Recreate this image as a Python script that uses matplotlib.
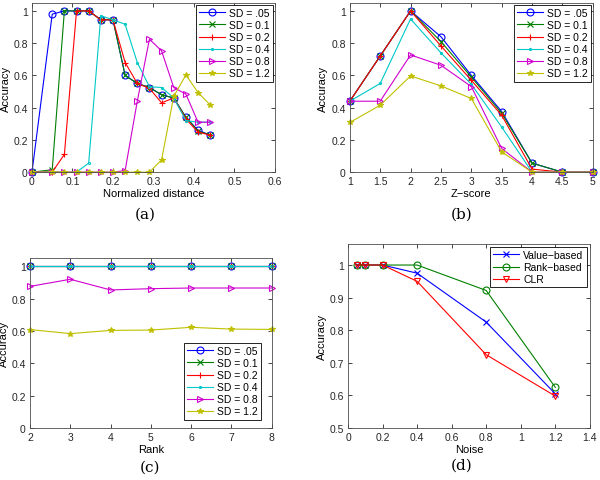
import numpy as np
import matplotlib
matplotlib.use("Agg")
import matplotlib.pyplot as plt
from matplotlib.ticker import FuncFormatter

plt.rcParams['font.family'] = ['Liberation Sans', 'DejaVu Sans']

# series labels / styles (matlab default line specs)
sd_labels = ['SD = .05', 'SD = 0.1', 'SD = 0.2', 'SD = 0.4', 'SD = 0.8', 'SD = 1.2']
sd_colors = ['#0000ff', '#008000', '#ff0000', '#00c8c8', '#d000d0', '#c0c000']
sd_markers = ['o', 'x', '+', '.', '>', '*']

# (a) accuracy vs normalized distance
dist = [0, 0.05, 0.08, 0.11, 0.14, 0.17, 0.20, 0.23, 0.26, 0.29, 0.32, 0.35, 0.38, 0.41, 0.44]
acc_a = [
    [0, 0.98, 1, 1, 1, 0.945, 0.945, 0.60, 0.55, 0.525, 0.48, 0.46, 0.34, 0.26, 0.23],
    [0, 0.015, 1, 1, 1, 0.945, 0.945, 0.60, 0.55, 0.525, 0.48, 0.46, 0.34, 0.255, 0.23],
    [0, 0, 0.11, 1, 1, 0.945, 0.945, 0.68, 0.55, 0.52, 0.43, 0.46, 0.33, 0.248, 0.23],
    [0, 0, 0, 0, 0.056, 0.97, 0.945, 0.917, 0.68, 0.53, 0.525, 0.46, 0.32, 0.31, 0.31],
    [0, 0, 0, 0, 0, 0, 0, 0.01, 0.44, 0.825, 0.752, 0.525, 0.484, 0.31, 0.31],
    [0, 0, 0, 0, 0, 0, 0, 0, 0, 0, 0.076, 0.47, 0.603, 0.494, 0.417],
]

# (b) accuracy vs z-score
zscore = [1, 1.5, 2, 2.5, 3, 3.5, 4, 4.5, 5]
acc_b = [
    [0.44, 0.72, 1.0, 0.84, 0.60, 0.376, 0.056, 0, 0],
    [0.44, 0.72, 1.0, 0.81, 0.59, 0.365, 0.056, 0, 0],
    [0.44, 0.72, 1.0, 0.783, 0.57, 0.353, 0.019, 0, 0],
    [0.44, 0.55, 0.95, 0.74, 0.545, 0.28, 0, 0, 0],
    [0.44, 0.44, 0.727, 0.663, 0.531, 0.147, 0, 0, 0],
    [0.308, 0.415, 0.597, 0.535, 0.457, 0.126, 0, 0, 0],
]

# (c) accuracy vs rank
rank = [2, 3, 4, 5, 6, 7, 8]
acc_c = [
    [1, 1, 1, 1, 1, 1, 1],
    [1, 1, 1, 1, 1, 1, 1],
    [1, 1, 1, 1, 1, 1, 1],
    [1, 1, 1, 1, 1, 1, 1],
    [0.876, 0.92, 0.854, 0.862, 0.866, 0.866, 0.866],
    [0.609, 0.584, 0.604, 0.606, 0.623, 0.612, 0.61],
]

# (d) accuracy vs noise
noise = [0.05, 0.1, 0.2, 0.4, 0.8, 1.2]
value_based = [1, 1, 1, 0.975, 0.825, 0.605]
rank_based = [1, 1, 1, 1, 0.922, 0.625]
clr = [1, 1, 1, 0.95, 0.725, 0.598]

fig = plt.figure(figsize=(6, 4.81), dpi=100)

fmt = FuncFormatter(lambda v, p: ('%g' % round(v, 6)))


def style(ax):
    ax.tick_params(direction='in', top=True, right=True, length=3, width=0.6,
                   labelsize=7.5, pad=3, colors='0.15')
    for s in ax.spines.values():
        s.set_linewidth(0.6)
        s.set_color('0.3')
    ax.xaxis.set_major_formatter(fmt)
    ax.yaxis.set_major_formatter(fmt)


def sd_lines(ax, x, ys):
    for y, lab, c, m in zip(ys, sd_labels, sd_colors, sd_markers):
        mfc = c if m == '*' else 'none'
        ms = 5 if m in ('o', '>') else (4 if m in ('x', '+', '*') else 3)
        ax.plot(x, y, color=c, marker=m, lw=0.8, ms=ms, mfc=mfc, mew=0.8,
                label=lab, clip_on=False)


legkw = dict(fontsize=7.5, fancybox=False, edgecolor='black', framealpha=1,
             handlelength=2.5, borderpad=0.3, labelspacing=0.2, handletextpad=0.4)

# (a)
ax = fig.add_axes([0.0533, 0.640, 0.405, 0.352])
sd_lines(ax, dist, acc_a)
ax.set_xlim(0, 0.6)
ax.set_ylim(0, 1.05)
ax.set_xticks(np.arange(0, 0.61, 0.1))
ax.set_yticks(np.arange(0, 1.01, 0.2))
ax.set_xlabel('Normalized distance', fontsize=8, labelpad=1)
ax.set_ylabel('Accuracy', fontsize=8, labelpad=2)
style(ax)
ax.legend(loc='upper right', borderaxespad=0.2, **legkw).get_frame().set_linewidth(0.6)

# (b)
ax = fig.add_axes([0.583, 0.640, 0.405, 0.352])
sd_lines(ax, zscore, acc_b)
ax.set_xlim(1, 5)
ax.set_ylim(0, 1.05)
ax.set_xticks(np.arange(1, 5.01, 0.5))
ax.set_yticks(np.arange(0, 1.01, 0.2))
ax.set_xlabel('Z\u2212score', fontsize=8, labelpad=1)
ax.set_ylabel('Accuracy', fontsize=8, labelpad=2)
style(ax)
ax.legend(loc='upper right', borderaxespad=0.2, **legkw).get_frame().set_linewidth(0.6)

# (c)
ax = fig.add_axes([0.05, 0.108, 0.403, 0.353])
sd_lines(ax, rank, acc_c)
ax.set_xlim(2, 8)
ax.set_ylim(0, 1.05)
ax.set_xticks(rank)
ax.set_yticks(np.arange(0, 1.01, 0.2))
ax.set_xlabel('Rank', fontsize=8, labelpad=1)
ax.set_ylabel('Accuracy', fontsize=8, labelpad=2)
style(ax)
ax.legend(loc='lower right', bbox_to_anchor=(0.955, 0.05), borderaxespad=0,
          **legkw).get_frame().set_linewidth(0.6)

# (d)
ax = fig.add_axes([0.58, 0.108, 0.403, 0.383])
ax.plot(noise, value_based, color='#0000ff', marker='x', lw=0.8, ms=4, mew=0.8, label='Value\u2212based')
ax.plot(noise, rank_based, color='#008000', marker='o', lw=0.8, ms=5, mfc='none', mew=0.8, label='Rank\u2212based')
ax.plot(noise, clr, color='#ff0000', marker='v', lw=0.8, ms=5, mfc='none', mew=0.8, label='CLR')
ax.set_xlim(0, 1.4)
ax.set_ylim(0.5, 1.065)
ax.set_xticks(np.arange(0, 1.41, 0.2))
ax.set_yticks(np.arange(0.5, 1.01, 0.1))
ax.set_xlabel('Noise', fontsize=8, labelpad=1)
ax.set_ylabel('Accuracy', fontsize=8, labelpad=2)
style(ax)
ax.legend(loc='upper right', borderaxespad=0.3, **legkw).get_frame().set_linewidth(0.6)

# panel captions
for x, y, t in [(145, 215, '(a)'), (462, 215, '(b)'), (150, 468, '(c)'), (462, 466, '(d)')]:
    fig.text(x / 600, 1 - y / 481, t, ha='center', va='center', fontsize=11,
             family=['DejaVu Serif'])

fig.savefig('out.png', dpi=100)
